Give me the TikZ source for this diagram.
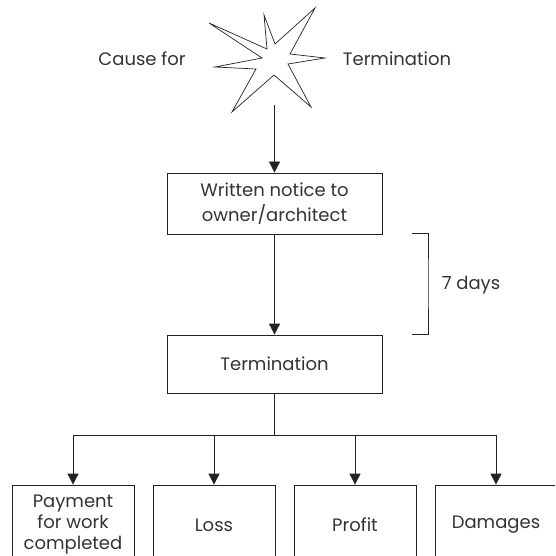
\documentclass[tikz,border=0pt]{standalone}
\usepackage{fontspec}
\setmainfont{Poppins}
\usetikzlibrary{arrows.meta}
\definecolor{ink}{HTML}{222222}
\definecolor{txt}{HTML}{333333}
\tikzset{
  box/.style={draw=ink, line width=0.8pt, align=center, inner sep=0pt,
              font=\fontsize{18}{25}\selectfont, text=txt},
  outcome/.style={box, minimum width=122pt, minimum height=80pt,
              font=\fontsize{18}{21}\selectfont},
  label/.style={font=\fontsize{18}{25}\selectfont, text=txt, inner sep=0pt},
  flow/.style={draw=ink, line width=0.8pt, -{Triangle[width=11pt,length=11pt]}},
  wire/.style={draw=ink, line width=0.8pt},
}
\begin{document}
\begin{tikzpicture}[x=1pt,y=-1pt]
  \useasboundingbox (0,0) rectangle (555,556);
  \clip (0,0) rectangle (555,556);

  % burst
  \draw[ink, line width=0.7pt, line join=miter]
    (209,23) -- (267,49) -- (264,15) -- (275,44) -- (315,8) -- (290,54)
    -- (325,58) -- (288,64) -- (311,107) -- (274,75) -- (232,112)
    -- (256,69) -- (215,67) -- (262,58) -- cycle;
  \coordinate (burst) at (274.5,105);
  \node[label] (cause) at (142,59) {Cause for};
  \node[label] (term) at (397,59) {Termination};

  % main chain
  \node[box, minimum width=215pt, minimum height=61pt] (notice) at (274.5,203.5)
    {Written notice to\\owner/architect};
  \node[box, minimum width=215pt, minimum height=58pt] (stop) at (274.5,364)
    {Termination};
  \draw[flow] (burst) -- (notice.north);
  \draw[flow] (notice.south) -- (stop.north);

  % notice period bracket
  \coordinate (b1) at (412,233);
  \coordinate (b2) at (412,334);
  \draw[wire] (b1) -| (428,283.5) |- (b2);
  \node[label] (days) at (471,285) {7 days};

  % consequences
  \node[outcome] (pay) at (73,525) {Payment\\for work\\completed};
  \node[outcome] (loss) at (214,525) {Loss};
  \node[outcome] (profit) at (355,525) {Profit};
  \node[outcome] (dmg) at (496,525) {Damages};
  \coordinate (split) at (274.5,435);
  \draw[wire] (stop.south) -- (split);
  \draw[flow] (split) -| (pay.north);
  \draw[flow] (split) -| (loss.north);
  \draw[flow] (split) -| (profit.north);
  \draw[flow] (split) -| (dmg.north);
\end{tikzpicture}
\end{document}
